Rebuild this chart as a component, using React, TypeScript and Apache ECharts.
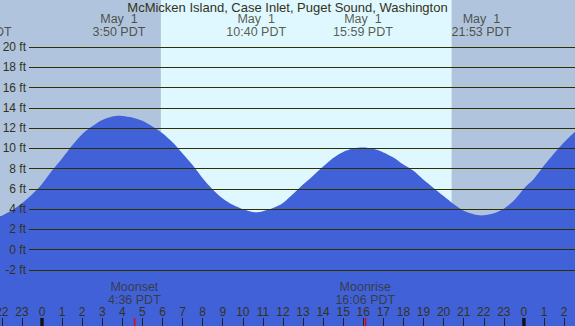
import React, { useEffect, useRef } from "react";
import * as echarts from "echarts";

// ---- data ----
const TITLE = "McMicken Island, Case Inlet, Puget Sound, Washington";
// tide height (ft) vs hour of May 1 (PDT)
const tideHours = [
  -2.1, -2.0, -1.5, -1.0, -0.5, 0, 0.5, 1.0, 1.5, 2.0, 2.5, 3.0, 3.5, 3.833, 4.0, 4.5, 5.0, 5.5, 6.0,
  6.5, 7.0, 7.5, 8.0, 8.5, 9.0, 9.5, 10.0, 10.5, 10.667, 11.0, 11.5, 12.0, 12.5, 13.0, 13.5, 14.0,
  14.5, 15.0, 15.5, 15.983, 16.5, 17.0, 17.5, 18.0, 18.5, 19.0, 19.5, 20.0, 20.5, 21.0, 21.5, 21.883,
  22.0, 22.5, 23.0, 23.5, 24.0, 24.5, 25.0, 25.5, 26.0, 26.6,
];
const tideFeet = [
  3.3, 3.36, 3.89, 4.58, 5.45, 6.49, 7.81, 9.01, 10.29, 11.4, 12.18, 12.8, 13.14, 13.22, 13.2, 13.05,
  12.72, 12.15, 11.5, 10.6, 9.5, 8.35, 7.05, 5.95, 5.05, 4.43, 4.0, 3.72, 3.69, 3.8, 4.12, 4.62, 5.5,
  6.43, 7.3, 8.2, 9.05, 9.65, 9.98, 10.08, 9.95, 9.6, 9.1, 8.4, 7.78, 6.9, 6.1, 5.3, 4.5, 3.85, 3.5,
  3.38, 3.39, 3.6, 4.05, 4.85, 6.05, 7.0, 8.3, 9.5, 10.6, 11.75,
];
// tide events (top labels)
const eventHours = [-3.0, 3.833, 10.667, 15.983, 21.883];
const eventDates = ["Apr 30", "May  1", "May  1", "May  1", "May  1"];
const eventTimes = ["21:00 PDT", "3:50 PDT", "10:40 PDT", "15:59 PDT", "21:53 PDT"];
// moon events (bottom labels)
const moonHours = [4.6, 16.1];
const moonNames = ["Moonset", "Moonrise"];
const moonTimes = ["4:36 PDT", "16:06 PDT"];
// sun
const SUNRISE = 5.92;
const SUNSET = 20.4;
// axis ticks
const hourTicks = [-2, -1, 0, 1, 2, 3, 4, 5, 6, 7, 8, 9, 10, 11, 12, 13, 14, 15, 16, 17, 18, 19, 20, 21, 22, 23, 24, 25, 26];
const midnightHours = [0, 24];
const feetTicks = [-2, 0, 2, 4, 6, 8, 10, 12, 14, 16, 18, 20];

// ---- view ----
const X_MIN = -2.092;
const X_MAX = 26.544;
const Y_MIN = -7.53;
const Y_MAX = 24.64;
const TOP_LABEL_Y = 22.1;
const MOON_LABEL_Y = -4.32;

const BLUE = "#4161d8";
const NIGHT = "#b0c4de";
const DAY = "#dff7ff";
const TEXT = "#33331a";
const GRID = "#2f2f00";
const FONT = "Liberation Sans, Arial, sans-serif";

export default function App() {
  const ref = useRef<HTMLDivElement>(null);
  useEffect(() => {
    if (!ref.current) return;
    const chart = echarts.init(ref.current, undefined, { renderer: "svg" });
    const tide = tideHours.map((h, i) => [h, tideFeet[i]]);
    const hourLabel = (v: number) => String(((Math.round(v) % 24) + 24) % 24);
    const labelStyle = {
      show: true,
      position: "inside",
      formatter: (p: any) => p.name,
      color: TEXT,
      fontSize: 12.5,
      fontFamily: FONT,
      lineHeight: 12.6,
      align: "center",
      verticalAlign: "middle",
    };
    chart.setOption({
      animation: false,
      backgroundColor: NIGHT,
      textStyle: { fontFamily: FONT },
      grid: [
        { left: 0, right: 0, top: 0, bottom: 0, outerBoundsMode: "none", containLabel: false },
        { left: 29, right: 0, top: 47, bottom: 56, outerBoundsMode: "none", containLabel: false },
      ],
      xAxis: [
        {
          type: "value",
          gridIndex: 0,
          min: X_MIN,
          max: X_MAX,
          position: "bottom",
          axisLine: { show: false, onZero: false },
          splitLine: { show: false },
          axisTick: {
            show: true,
            inside: true,
            length: 8,
            customValues: hourTicks,
            lineStyle: { color: "#222", width: 1 },
          },
          axisLabel: {
            show: true,
            inside: true,
            margin: 8.5,
            customValues: hourTicks,
            formatter: hourLabel,
            color: TEXT,
            fontSize: 12,
            fontFamily: FONT,
            hideOverlap: false,
          },
          z: 5,
        },
        { type: "value", gridIndex: 1, min: 0, max: 1, show: false, axisLine: { onZero: false } },
      ],
      yAxis: [
        { type: "value", gridIndex: 0, min: Y_MIN, max: Y_MAX, show: false, axisLine: { onZero: false } },
        {
          type: "value",
          gridIndex: 1,
          min: feetTicks[0],
          max: feetTicks[feetTicks.length - 1],
          interval: 2,
          axisLine: { show: false, onZero: false },
          axisTick: { show: false },
          splitLine: { show: true, lineStyle: { color: GRID, width: 1 } },
          axisLabel: {
            formatter: "{value} ft",
            color: TEXT,
            fontSize: 12,
            fontFamily: FONT,
            margin: 3,
          },
          z: 4,
        },
      ],
      series: [
        {
          type: "line",
          xAxisIndex: 0,
          yAxisIndex: 0,
          data: [[SUNRISE, 0], [SUNSET, 0]],
          symbol: "none",
          lineStyle: { opacity: 0 },
          silent: true,
          z: 1,
          markArea: {
            silent: true,
            itemStyle: { color: DAY },
            data: [[{ xAxis: SUNRISE }, { xAxis: SUNSET }]],
          },
        },
        {
          type: "line",
          xAxisIndex: 0,
          yAxisIndex: 0,
          data: tide,
          smooth: 0.3,
          symbol: "none",
          lineStyle: { width: 0 },
          areaStyle: { color: BLUE, opacity: 1, origin: "start" },
          z: 2,
        },
        {
          type: "custom",
          xAxisIndex: 0,
          yAxisIndex: 0,
          z: 6,
          data: [
            ...midnightHours.map((h) => [h, 0]),
            ...moonHours.map((h) => [h, 1]),
          ],
          renderItem: (params: any, api: any) => {
            const p = api.coord([api.value(0), 0]);
            const h = api.getHeight();
            const moon = api.value(1) === 1;
            return moon
              ? { type: "rect", shape: { x: p[0] - 0.5, y: h - 8, width: 1.5, height: 8 }, style: { fill: "#ee0000" } }
              : { type: "rect", shape: { x: p[0] - 1.7, y: h - 8, width: 3.4, height: 8 }, style: { fill: "#111" } };
          },
        },
        {
          type: "scatter",
          xAxisIndex: 0,
          yAxisIndex: 0,
          clip: false,
          z: 7,
          symbolSize: 1,
          itemStyle: { color: "transparent" },
          data: eventHours.map((h, i) => ({ value: [h, TOP_LABEL_Y], name: eventDates[i] + "\n" + eventTimes[i] })),
          label: labelStyle,
          labelLayout: { hideOverlap: false },
        },
        {
          type: "scatter",
          xAxisIndex: 0,
          yAxisIndex: 0,
          clip: false,
          z: 7,
          symbolSize: 1,
          itemStyle: { color: "transparent" },
          data: moonHours.map((h, i) => ({ value: [h, MOON_LABEL_Y], name: moonNames[i] + "\n" + moonTimes[i] })),
          label: labelStyle,
          labelLayout: { hideOverlap: false },
        },
      ],
      graphic: [
        {
          type: "text",
          left: "center",
          top: 1,
          z: 10,
          style: { text: TITLE, fill: TEXT, fontSize: 13, fontFamily: FONT },
        },
      ],
    });
    return () => chart.dispose();
  }, []);
  return <div ref={ref} style={{ width: 575, height: 326, position: "fixed", left: 0, top: 0 }} />;
}
